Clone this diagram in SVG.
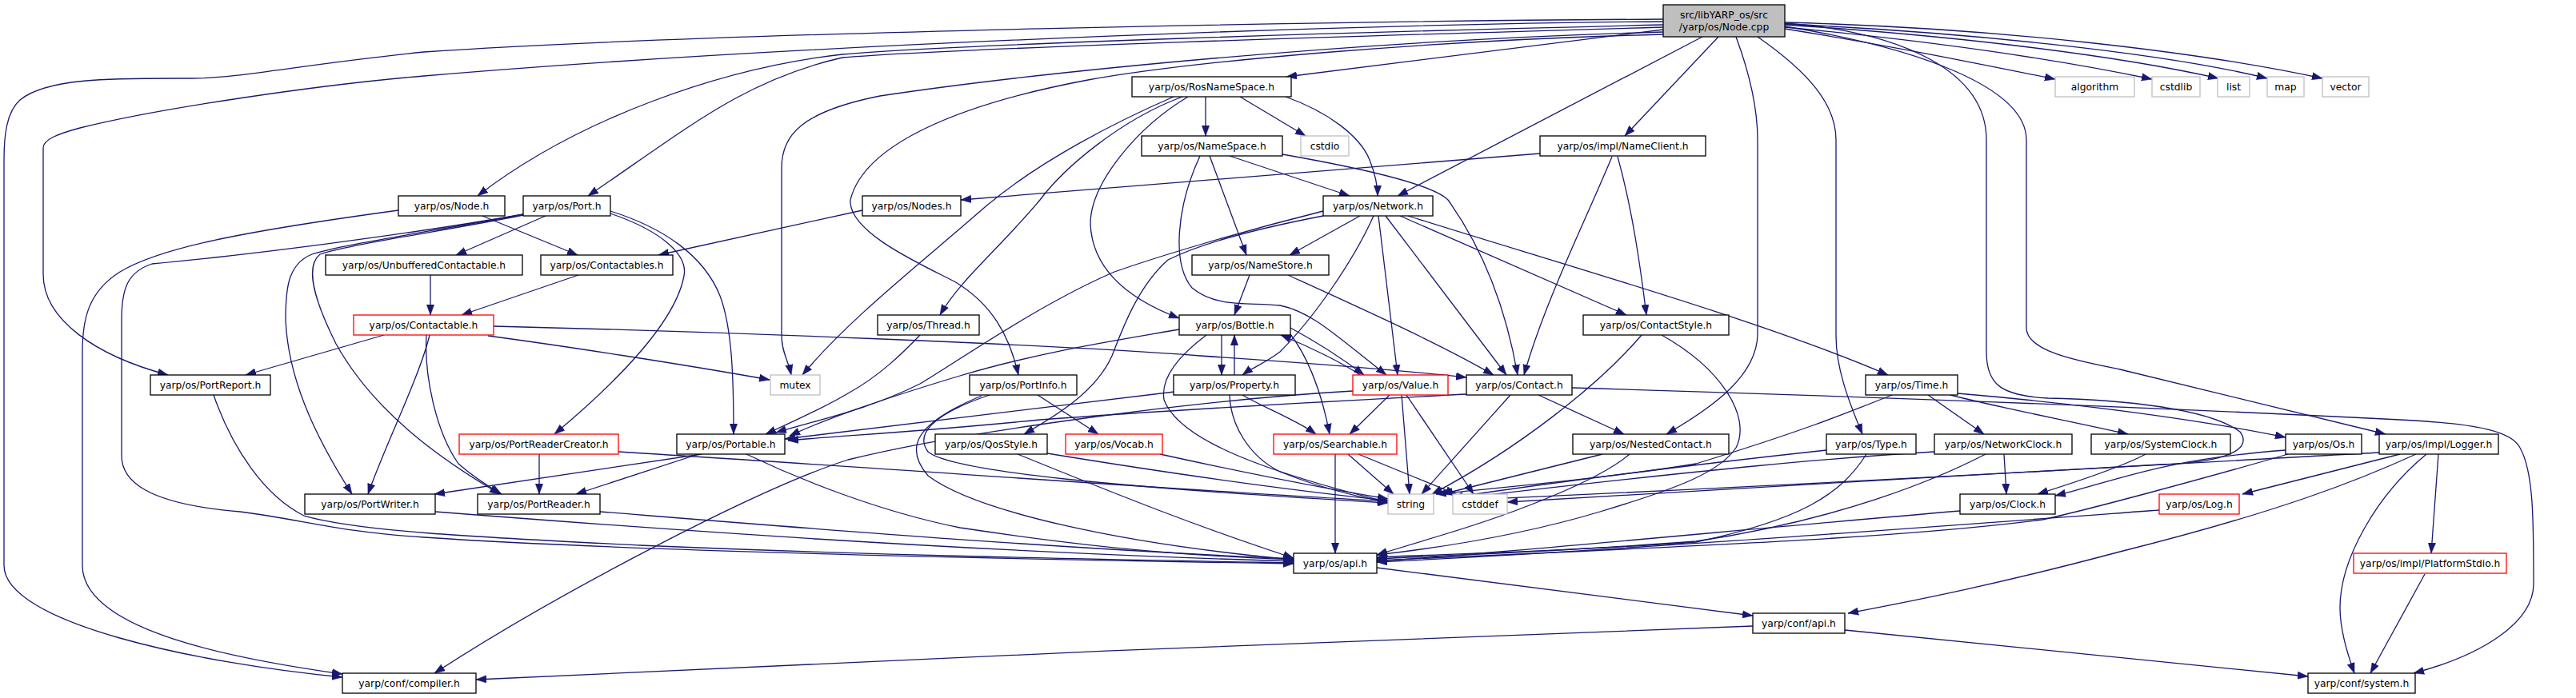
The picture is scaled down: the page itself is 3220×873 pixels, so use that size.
<svg xmlns="http://www.w3.org/2000/svg" width="3220" height="873" viewBox="0 0 3220 873">
<style>
rect{fill:#fff;stroke:#000;stroke-width:1.3}
.r rect{stroke:#ff0000}
.g rect{stroke:#bfbfbf}
.root rect{fill:#bfbfbf}
text{font-family:"DejaVu Sans","Liberation Sans",sans-serif;font-size:12.3px;text-anchor:middle;fill:#000}
#edges path{fill:none;stroke:#191970;stroke-width:1.3;marker-end:url(#a)}
</style>
<defs>
<marker id="a" markerUnits="userSpaceOnUse" markerWidth="13" markerHeight="10" viewBox="0 0 13 9.4" refX="13" refY="4.7" orient="auto">
<path d="M0,0 L13,4.7 L0,9.4 z" fill="#191970" stroke="#191970" stroke-width="0.5"/>
</marker>
</defs>
<rect x="0" y="0" width="3220" height="873" style="fill:#fff;stroke:none"/>
<g id="edges">
<path d="M2079,24 C1700,26 900,40 530,65 C380,80 300,98 240,98 C150,98 60,96 25,125 C8,140 5,170 5,200 L5,707 C5,780 250,830 428,847"/>
<path d="M2079,27 C1700,30 1000,55 530,95 C400,106 200,135 100,160 C70,168 54,175 54,185 L54,343 C54,400 120,445 210,469"/>
<path d="M2079,31 C1700,40 1200,55 1053,68 C900,85 720,150 597,245"/>
<path d="M2079,34 C1700,45 1200,60 1053,72 C930,100 860,160 735,245"/>
<path d="M2079,37 L1608,96"/>
<path d="M2128,46 L1747,245"/>
<path d="M2148,46 L2031,170"/>
<path d="M2170,46 C2190,100 2197,140 2197,175 L2197,417 C2197,470 2140,510 2083,543"/>
<path d="M2197,46 C2260,90 2295,130 2295,175 L2295,420 C2295,460 2310,500 2328,543"/>
<path d="M2231,29 C2380,40 2483,90 2483,175 L2483,440 C2483,480 2500,495 2560,498 C2650,500 2760,510 2800,540 C2815,560 2790,578 2700,581 C2500,592 2100,615 1884,628"/>
<path d="M2231,33 C2400,60 2533,110 2533,175 L2533,410 C2533,440 2600,452 2650,462 L2982,543"/>
<path d="M2231,36 C2350,55 2450,75 2569,99"/>
<path d="M2231,34 C2400,50 2550,70 2690,99"/>
<path d="M2231,31 C2450,45 2650,70 2773,98"/>
<path d="M2231,30 C2450,40 2700,65 2834,98"/>
<path d="M2231,28 C2500,35 2750,65 2903,98"/>
<path d="M2079,40 C1700,50 1300,90 1100,120 C1000,140 977,170 977,210 L977,420 C977,440 985,450 989,469"/>
<path d="M2079,43 C1800,50 1500,75 1360,100 C1200,130 1080,180 1063,250 C1060,290 1150,330 1193,352 C1240,380 1262,420 1273,469"/>
<path d="M603,270 L722,319"/>
<path d="M498,263 C300,290 200,310 150,340 C110,365 103,400 103,440 L103,707 C103,790 300,825 428,843"/>
<path d="M682,270 L570,319"/>
<path d="M763,264 C830,285 880,320 900,370 C915,410 917,470 917,543"/>
<path d="M763,267 C830,290 860,320 855,345 C845,400 780,470 693,543"/>
<path d="M654,268 C500,295 300,320 190,330 C160,340 152,360 152,400 L152,570 C152,600 180,630 300,640 C380,650 420,665 530,672 C800,690 1300,700 1617,705"/>
<path d="M654,268 C550,288 430,305 390,318 C360,330 357,360 357,400 C360,470 390,540 440,618"/>
<path d="M654,269 C560,288 440,305 400,318 C385,330 385,360 420,430 C470,520 560,580 625,618"/>
<path d="M538,344 L538,394"/>
<path d="M723,344 L577,394"/>
<path d="M1078,263 L823,319"/>
<path d="M480,419 L307,469"/>
<path d="M537,419 C525,470 480,560 460,618"/>
<path d="M533,419 C530,470 545,540 573,580 C590,595 610,608 627,618"/>
<path d="M610,420 C700,432 850,455 962,475"/>
<path d="M617,408 C900,415 1300,430 1500,445 C1650,455 1750,463 1833,472"/>
<path d="M1925,192 L1201,250"/>
<path d="M2015,196 C1980,280 1930,380 1905,469"/>
<path d="M2022,196 C2040,260 2050,330 2058,394"/>
<path d="M1507,121 L1507,170"/>
<path d="M1550,121 L1632,170"/>
<path d="M1607,121 C1660,140 1700,170 1712,200 C1720,220 1722,235 1722,245"/>
<path d="M1467,121 C1400,150 1300,200 1230,260 C1150,330 1060,400 1003,469"/>
<path d="M1478,121 C1400,150 1330,210 1300,250 C1250,310 1200,350 1175,394"/>
<path d="M1485,121 C1420,160 1363,230 1363,280 C1365,330 1400,370 1474,398"/>
<path d="M1512,195 L1558,319"/>
<path d="M1537,195 L1687,245"/>
<path d="M1500,195 C1470,260 1465,330 1490,360 C1520,385 1560,378 1600,382 C1640,390 1670,420 1733,469"/>
<path d="M1603,193 C1700,210 1790,230 1810,250 C1860,320 1885,400 1897,469"/>
<path d="M1700,270 L1612,319"/>
<path d="M1717,270 C1690,330 1640,400 1600,440 C1580,455 1565,460 1553,469"/>
<path d="M1723,270 L1747,469"/>
<path d="M1732,270 L1883,469"/>
<path d="M1750,270 L2033,394"/>
<path d="M1760,270 C1950,330 2200,400 2360,469"/>
<path d="M1654,264 C1550,290 1450,320 1393,340 C1300,380 1200,450 1150,480 C1080,515 1010,528 970,541"/>
<path d="M1654,270 C1550,290 1490,310 1460,325 C1420,360 1400,420 1390,445 C1370,490 1320,520 1280,543"/>
<path d="M1562,344 L1543,394"/>
<path d="M1610,344 C1700,385 1800,430 1867,469"/>
<path d="M2052,419 C2000,480 1900,560 1790,618"/>
<path d="M2077,419 C2150,460 2190,520 2170,560 C2150,590 2100,610 2000,640 C1900,670 1800,685 1721,694"/>
<path d="M1150,419 C1130,440 1100,470 1060,492 C1030,510 990,528 957,543"/>
<path d="M1527,419 L1527,469"/>
<path d="M1613,410 C1650,430 1680,450 1705,469"/>
<path d="M1613,418 C1630,440 1650,480 1662,543"/>
<path d="M1474,412 C1400,425 1300,440 1200,470 C1100,500 1030,525 987,545"/>
<path d="M1508,419 C1480,440 1450,470 1455,500 C1470,540 1540,580 1735,628"/>
<path d="M1543,469 L1543,419"/>
<path d="M1553,494 C1580,510 1620,525 1645,543"/>
<path d="M1537,494 C1538,530 1560,570 1600,590 C1650,610 1700,622 1735,628"/>
<path d="M1468,490 C1300,510 1100,535 981,549"/>
<path d="M1700,469 C1680,455 1640,435 1601,419"/>
<path d="M1737,494 L1687,543"/>
<path d="M1752,494 L1762,618"/>
<path d="M1758,494 L1842,618"/>
<path d="M1691,489 C1500,500 1200,540 1060,575 C950,610 700,740 543,842"/>
<path d="M1888,494 L1777,618"/>
<path d="M1923,494 L2030,543"/>
<path d="M1965,485 C2200,492 2600,505 3000,525 C3100,530 3140,540 3150,560 C3167,590 3167,650 3167,730 C3167,780 3100,820 3017,842"/>
<path d="M1833,493 C1700,500 1500,510 1300,525 C1150,540 1050,545 985,551"/>
<path d="M2365,494 C2300,520 2250,540 2120,580 C2000,600 1850,612 1795,618"/>
<path d="M2410,494 L2480,543"/>
<path d="M2438,494 C2500,510 2580,525 2660,543"/>
<path d="M2447,492 C2600,505 2750,525 2857,547"/>
<path d="M2003,568 L1803,618"/>
<path d="M2037,568 C2000,600 1900,640 1800,670 C1760,682 1740,688 1721,694"/>
<path d="M2283,563 C2200,572 2000,595 1816,622"/>
<path d="M2333,568 C2300,620 2250,650 2120,678 C1950,690 1800,693 1721,697"/>
<path d="M2505,568 L2508,618"/>
<path d="M2482,568 C2420,600 2300,650 2120,677 C1950,690 1800,695 1721,699"/>
<path d="M2418,565 C2300,572 2150,585 1816,624"/>
<path d="M2682,568 C2660,580 2620,595 2547,618"/>
<path d="M2860,568 C2750,600 2600,640 2553,650 C2400,670 2200,680 1721,701"/>
<path d="M2857,563 C2700,575 2650,600 2569,620"/>
<path d="M3000,568 L2803,618"/>
<path d="M3048,568 L3039,692"/>
<path d="M3033,568 C2970,620 2925,700 2925,760 C2925,790 2935,820 2943,842"/>
<path d="M3020,568 C2950,600 2850,640 2650,690 C2500,730 2400,750 2310,767"/>
<path d="M2975,566 C2800,575 2400,600 1816,626"/>
<path d="M2450,639 C2200,660 1900,690 1721,702"/>
<path d="M2699,638 C2400,660 2000,690 1721,703"/>
<path d="M3031,718 L2963,842"/>
<path d="M1669,568 L1669,692"/>
<path d="M1685,568 L1742,618"/>
<path d="M1698,568 L1820,618"/>
<path d="M1309,567 C1450,590 1600,612 1735,626"/>
<path d="M1272,568 C1400,620 1500,660 1617,698"/>
<path d="M1450,568 C1550,590 1650,610 1735,624"/>
<path d="M1297,494 L1373,543"/>
<path d="M1237,494 C1160,520 1145,545 1160,565 C1190,590 1400,610 1735,629"/>
<path d="M1227,495 C1143,530 1130,560 1160,595 C1220,640 1400,680 1617,700"/>
<path d="M267,494 C290,560 330,620 380,645 C450,665 600,672 800,682 C1100,695 1400,700 1617,704"/>
<path d="M544,640 C800,660 1200,690 1617,702"/>
<path d="M750,640 C1000,660 1300,685 1617,699"/>
<path d="M674,568 L674,618"/>
<path d="M773,565 C1100,585 1500,615 1735,627"/>
<path d="M877,568 L543,618"/>
<path d="M873,568 L720,618"/>
<path d="M933,568 C1000,600 1100,640 1200,660 C1400,690 1500,695 1617,700"/>
<path d="M2191,783 C1800,795 1000,830 595,850"/>
<path d="M2306,788 L2885,846"/>
<path d="M1721,710 L2191,770"/>
</g>
<g id="n0" class="root"><rect x="2079" y="6" width="152" height="40"/><text x="2155" y="22.5">src/libYARP_os/src</text><text x="2155" y="37.5">/yarp/os/Node.cpp</text></g>
<g id="n_rns"><rect x="1415" y="96" width="199" height="25"/><text x="1514.5" y="113">yarp/os/RosNameSpace.h</text></g>
<g id="n_alg" class="g"><rect x="2569" y="96" width="99" height="25"/><text x="2618.5" y="113">algorithm</text></g>
<g id="n_cstdlib" class="g"><rect x="2690" y="96" width="60" height="25"/><text x="2720" y="113">cstdlib</text></g>
<g id="n_list" class="g"><rect x="2772" y="96" width="40" height="25"/><text x="2792" y="113">list</text></g>
<g id="n_map" class="g"><rect x="2834" y="96" width="46" height="25"/><text x="2857" y="113">map</text></g>
<g id="n_vector" class="g"><rect x="2903" y="96" width="58" height="25"/><text x="2932" y="113">vector</text></g>
<g id="n_ns"><rect x="1427" y="170" width="176" height="25"/><text x="1515" y="187">yarp/os/NameSpace.h</text></g>
<g id="n_cstdio" class="g"><rect x="1626" y="170" width="60" height="25"/><text x="1656" y="187">cstdio</text></g>
<g id="n_nc"><rect x="1925" y="170" width="207" height="25"/><text x="2028.5" y="187">yarp/os/impl/NameClient.h</text></g>
<g id="n_node"><rect x="498" y="245" width="133" height="25"/><text x="564.5" y="262">yarp/os/Node.h</text></g>
<g id="n_port"><rect x="654" y="245" width="109" height="25"/><text x="708.5" y="262">yarp/os/Port.h</text></g>
<g id="n_nodes"><rect x="1078" y="245" width="123" height="25"/><text x="1139.5" y="262">yarp/os/Nodes.h</text></g>
<g id="n_net"><rect x="1654" y="245" width="137" height="25"/><text x="1722.5" y="262">yarp/os/Network.h</text></g>
<g id="n_unb"><rect x="407" y="319" width="246" height="25"/><text x="530" y="336">yarp/os/UnbufferedContactable.h</text></g>
<g id="n_ctbls"><rect x="676" y="319" width="165" height="25"/><text x="758.5" y="336">yarp/os/Contactables.h</text></g>
<g id="n_nstore"><rect x="1490" y="319" width="171" height="25"/><text x="1575.5" y="336">yarp/os/NameStore.h</text></g>
<g id="n_ctbl" class="r"><rect x="442" y="394" width="175" height="25"/><text x="529.5" y="411">yarp/os/Contactable.h</text></g>
<g id="n_thread"><rect x="1097" y="394" width="127" height="25"/><text x="1160.5" y="411">yarp/os/Thread.h</text></g>
<g id="n_bottle"><rect x="1474" y="394" width="139" height="25"/><text x="1543.5" y="411">yarp/os/Bottle.h</text></g>
<g id="n_cstyle"><rect x="1979" y="394" width="182" height="25"/><text x="2070" y="411">yarp/os/ContactStyle.h</text></g>
<g id="n_preport"><rect x="188" y="469" width="150" height="25"/><text x="263" y="486">yarp/os/PortReport.h</text></g>
<g id="n_mutex" class="g"><rect x="963" y="469" width="62" height="25"/><text x="994" y="486">mutex</text></g>
<g id="n_pinfo"><rect x="1212" y="469" width="134" height="25"/><text x="1279" y="486">yarp/os/PortInfo.h</text></g>
<g id="n_prop"><rect x="1467" y="469" width="152" height="25"/><text x="1543" y="486">yarp/os/Property.h</text></g>
<g id="n_value" class="r"><rect x="1691" y="469" width="119" height="25"/><text x="1750.5" y="486">yarp/os/Value.h</text></g>
<g id="n_contact"><rect x="1833" y="469" width="132" height="25"/><text x="1899" y="486">yarp/os/Contact.h</text></g>
<g id="n_time"><rect x="2332" y="469" width="115" height="25"/><text x="2389.5" y="486">yarp/os/Time.h</text></g>
<g id="n_prc" class="r"><rect x="574" y="543" width="199" height="25"/><text x="673.5" y="560">yarp/os/PortReaderCreator.h</text></g>
<g id="n_portable"><rect x="846" y="543" width="135" height="25"/><text x="913.5" y="560">yarp/os/Portable.h</text></g>
<g id="n_qos"><rect x="1169" y="543" width="140" height="25"/><text x="1239" y="560">yarp/os/QosStyle.h</text></g>
<g id="n_vocab" class="r"><rect x="1332" y="543" width="121" height="25"/><text x="1392.5" y="560">yarp/os/Vocab.h</text></g>
<g id="n_search" class="r"><rect x="1592" y="543" width="154" height="25"/><text x="1669" y="560">yarp/os/Searchable.h</text></g>
<g id="n_nested"><rect x="1966" y="543" width="195" height="25"/><text x="2063.5" y="560">yarp/os/NestedContact.h</text></g>
<g id="n_type"><rect x="2283" y="543" width="112" height="25"/><text x="2339" y="560">yarp/os/Type.h</text></g>
<g id="n_nclock"><rect x="2418" y="543" width="172" height="25"/><text x="2504" y="560">yarp/os/NetworkClock.h</text></g>
<g id="n_sclock"><rect x="2614" y="543" width="174" height="25"/><text x="2701" y="560">yarp/os/SystemClock.h</text></g>
<g id="n_os"><rect x="2857" y="543" width="95" height="25"/><text x="2904.5" y="560">yarp/os/Os.h</text></g>
<g id="n_logger"><rect x="2974" y="543" width="149" height="25"/><text x="3048.5" y="560">yarp/os/impl/Logger.h</text></g>
<g id="n_pw"><rect x="381" y="618" width="163" height="25"/><text x="462.5" y="635">yarp/os/PortWriter.h</text></g>
<g id="n_pr"><rect x="597" y="618" width="153" height="25"/><text x="673.5" y="635">yarp/os/PortReader.h</text></g>
<g id="n_string" class="g"><rect x="1735" y="618" width="57" height="25"/><text x="1763.5" y="635">string</text></g>
<g id="n_cstddef" class="g"><rect x="1816" y="618" width="68" height="25"/><text x="1850" y="635">cstddef</text></g>
<g id="n_clock"><rect x="2450" y="618" width="119" height="25"/><text x="2509.5" y="635">yarp/os/Clock.h</text></g>
<g id="n_log" class="r"><rect x="2699" y="618" width="100" height="25"/><text x="2749" y="635">yarp/os/Log.h</text></g>
<g id="n_api"><rect x="1617" y="692" width="104" height="25"/><text x="1669" y="709">yarp/os/api.h</text></g>
<g id="n_pstdio" class="r"><rect x="2942" y="692" width="191" height="25"/><text x="3037.5" y="709">yarp/os/impl/PlatformStdio.h</text></g>
<g id="n_capi"><rect x="2191" y="767" width="115" height="25"/><text x="2248.5" y="784">yarp/conf/api.h</text></g>
<g id="n_comp"><rect x="428" y="842" width="167" height="25"/><text x="511.5" y="859">yarp/conf/compiler.h</text></g>
<g id="n_sys"><rect x="2885" y="842" width="134" height="25"/><text x="2952" y="859">yarp/conf/system.h</text></g>
</svg>
